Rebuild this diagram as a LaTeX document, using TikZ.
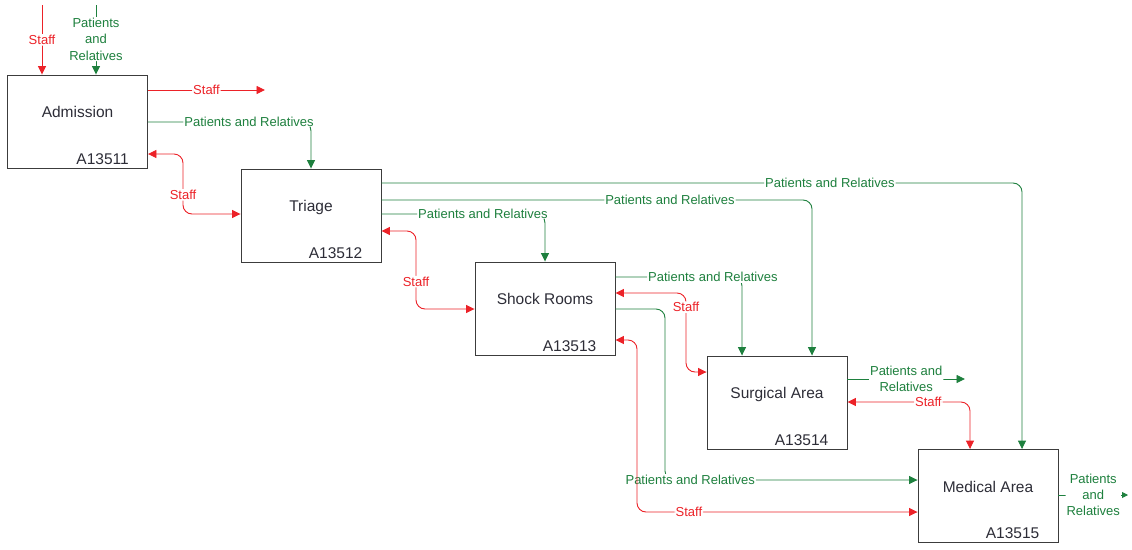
\documentclass[tikz,border=0pt]{standalone}
\usepackage{fontspec}
\setmainfont{Liberation Sans}
\usetikzlibrary{arrows.meta,calc}
\definecolor{flowred}{RGB}{236,34,40}
\definecolor{flowgreen}{RGB}{30,128,62}
\definecolor{boxline}{RGB}{60,60,60}
\definecolor{boxtext}{RGB}{45,45,55}
\begin{document}
\begin{tikzpicture}[x=1pt,y=-1pt,
  >={Triangle[length=8.5pt,width=8pt]},
  act/.style={draw=boxline,line width=0.9pt,minimum width=140pt,minimum height=93pt,inner sep=0pt},
  acttitle/.style={text=boxtext,font=\fontsize{15.5}{18}\selectfont,inner sep=0pt,anchor=base},
  actid/.style={text=boxtext,font=\fontsize{15.5}{18}\selectfont,inner sep=0pt,anchor=base east},
  flow/.style={line width=0.9pt,rounded corners=9pt},
  staffflow/.style={flow,draw=flowred},
  pflow/.style={flow,draw=flowgreen},
  lbl/.style={fill=white,inner sep=1pt,align=center,font=\fontsize{13}{16.3}\selectfont},
  rlbl/.style={lbl,text=flowred},
  glbl/.style={lbl,text=flowgreen},
]
\useasboundingbox (0,0) rectangle (1132,549);

% activity boxes
\node[act] (adm) at (77.5,121.5) {};
\node[act] (tri) at (311,215.5) {};
\node[act] (sho) at (545,308.5) {};
\node[act] (sur) at (777,402.5) {};
\node[act] (med) at (988,496) {};

\foreach \b/\t/\i in {adm/Admission/A13511, tri/Triage/A13512, sho/Shock Rooms/A13513,
                      sur/Surgical Area/A13514, med/Medical Area/A13515}{
  \node[acttitle] (\b T) at ($(\b.center)+(0,-4)$) {\t};
  \node[actid] (\b I) at ($(\b.south east)+(-19,-4)$) {\i};
}

% free ends
\coordinate (inS) at (42,5);
\coordinate (inP) at (96,5);
\coordinate (admOut) at (265,90);
\coordinate (surOut) at (965,379);
\coordinate (medOut) at (1128,495);

% inputs to Admission
\draw[staffflow,->] (inS) -- node[rlbl] (l1) {Staff} (adm.north -| inS);
\draw[pflow,->] (inP) -- node[glbl,pos=0.49] (l2) {Patients\\and\\Relatives} (adm.north -| inP);

% Admission outputs
\draw[staffflow,->] (adm.east |- 0,90) -- node[rlbl] (l3) {Staff} (admOut);
\draw[pflow,->] (adm.east |- 0,122) -| node[glbl,pos=0.31] (l4) {Patients and Relatives} (tri.north);
\draw[staffflow,<->] (adm.east |- 0,154) -- (183,154) -- node[rlbl,pos=0.68] (l5) {Staff} (183,214) -- (tri.west |- 0,214);

% Triage outputs
\draw[pflow,->] (tri.east |- 0,183) -| node[glbl,pos=0.35] (l6) {Patients and Relatives} (med.north -| 1022,0);
\draw[pflow,->] (tri.east |- 0,200) -| node[glbl,pos=0.335] (l7) {Patients and Relatives} (sur.north -| 812,0);
\draw[pflow,->] (tri.east |- 0,214) -| node[glbl,pos=0.31] (l8) {Patients and Relatives} (sho.north);
\draw[staffflow,<->] (tri.east |- 0,231) -- (416,231) -- node[rlbl,pos=0.65] (l9) {Staff} (416,309) -- (sho.west |- 0,309);

% Shock Rooms outputs
\draw[pflow,->] (sho.east |- 0,277) -| node[glbl,pos=0.385] (l10) {Patients and Relatives} (sur.north -| 742,0);
\draw[staffflow,<->] (sho.east |- 0,293) -- (686,293) -- node[rlbl,pos=0.18] (l11) {Staff} (686,372) -- (sur.west |- 0,372);
\draw[pflow,->] (sho.east |- 0,309) -- (665,309) -- (665,480) -- node[glbl,pos=0.1] (l12) {Patients and Relatives} (med.west |- 0,480);
\draw[staffflow,<->] (sho.east |- 0,340) -- (637,340) -- (637,512) -- node[rlbl,pos=0.185] (l13) {Staff} (med.west |- 0,512);

% Surgical Area outputs
\draw[pflow,->] (sur.east |- 0,379) -- node[glbl,pos=0.5] (l14) {Patients and\\Relatives} (surOut);
\draw[staffflow,<->] (sur.east |- 0,402) -| node[rlbl,pos=0.33] (l15) {Staff} (med.north -| 970,0);

% Medical Area output
\draw[pflow,-{Triangle[length=6pt,width=6pt]}] (med.east |- 0,495) -- node[glbl,pos=0.5] (l16) {Patients\\and\\Relatives} (medOut);
\end{tikzpicture}
\end{document}
